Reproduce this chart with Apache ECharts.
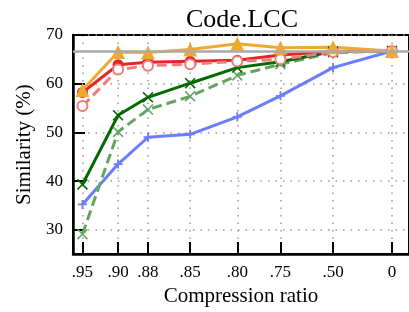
<!DOCTYPE html>
<html>
<head>
<meta charset="utf-8">
<script src="https://cdn.jsdelivr.net/npm/echarts@6/dist/echarts.min.js"></script>
<style>
  html, body { margin: 0; padding: 0; background: #fff; }
  #chart { width: 409px; height: 312px; }
</style>
</head>
<body>
<div id="chart"></div>
<script>
// tick labels and where each one sits along the (non uniform) x axis
const ratioLabels = ['.95', '.90', '.88', '.85', '.80', '.75', '.50', '0'];
const xPos = [9.7, 46.3, 77, 120.3, 168.7, 213, 267, 327.5];

// similarity values (%) per compression ratio
const orangeTri = [58.7, 66.5, 66.4, 67.0, 68.2, 67.4, 67.5, 66.7];
const redSolid = [58.2, 63.9, 64.4, 64.6, 64.8, 65.9, 66.6, 66.7];
const redDashed = [55.4, 62.9, 63.7, 64.0, 64.6, 65.0, 66.5, 66.7];
const greenSolid = [39.3, 53.5, 57.2, 60.1, 63.3, 64.5, 66.6, 66.7];
const greenDashed = [29.1, 50.1, 54.7, 57.4, 61.7, 64.0, 66.4, 66.7];
const bluePlus = [35.2, 43.5, 49.0, 49.6, 53.2, 57.5, 63.3, 66.7];
const baseline = 66.7;

const serif = 'Liberation Serif';
const crossPath = 'path://M1,0 L5,4 L9,0 L10,1 L6,5 L10,9 L9,10 L5,6 L1,10 L0,9 L4,5 L0,1 Z';
const plusPath = 'path://M4,0 H6 V4 H10 V6 H6 V10 H4 V6 H0 V4 H4 Z';

function pairs(vals) {
    return vals.map(function (v, i) { return [xPos[i], v]; });
}

function line(name, vals, color, opts) {
    return Object.assign({
        name: name,
        type: 'line',
        data: pairs(vals),
        symbol: 'circle',
        symbolSize: 10,
        lineStyle: { color: color, width: 3 },
        itemStyle: { color: color },
        animation: false
    }, opts);
}

let chart = echarts.init(document.getElementById('chart'));

let option = {
    title: {
        text: 'Code.LCC',
        left: 237,
        top: 2,
        textAlign: 'center',
        textStyle: { fontFamily: serif, fontSize: 26, fontWeight: 'normal', color: '#000' }
    },
    grid: {
        left: 73, top: 35, width: 345, height: 222,
        show: true, borderColor: '#000', borderWidth: 2, backgroundColor: 'transparent'
    },
    xAxis: {
        type: 'value',
        min: 0,
        max: 345,
        name: 'Compression ratio',
        nameLocation: 'middle',
        nameGap: 31,
        nameTextStyle: { fontFamily: serif, fontSize: 21, color: '#000' },
        axisLine: { lineStyle: { color: '#000', width: 2.5 } },
        axisTick: {
            customValues: xPos,
            inside: true, length: 12,
            lineStyle: { color: '#000', width: 2 }
        },
        axisLabel: {
            customValues: xPos,
            formatter: function (v) { return ratioLabels[xPos.indexOf(v)]; },
            fontFamily: serif, fontSize: 17, color: '#000', margin: 10
        },
        splitLine: { show: true, lineStyle: { color: '#999', type: [1.5, 6], width: 1.5 } }
    },
    yAxis: {
        type: 'value',
        min: 25,
        max: 70,
        interval: 5,
        name: 'Similarity (%)',
        nameLocation: 'middle',
        nameGap: 33,
        nameTextStyle: { fontFamily: serif, fontSize: 21, color: '#000' },
        axisLine: { show: true, lineStyle: { color: '#000', width: 2.5 } },
        axisTick: {
            customValues: [30, 40, 50, 60, 70],
            inside: true, length: 12,
            lineStyle: { color: '#000', width: 2 }
        },
        axisLabel: {
            customValues: [30, 40, 50, 60, 70],
            fontFamily: serif, fontSize: 17, color: '#000', margin: 10
        },
        splitLine: { show: true, lineStyle: { color: '#999', type: [1.5, 6], width: 1.5 } }
    },
    series: [
        {
            type: 'line', data: [], animation: false,
            markLine: {
                silent: true, symbol: 'none', label: { show: false },
                lineStyle: { color: '#aaa', width: 2.5, type: 'solid' },
                data: [{ yAxis: baseline }]
            }
        },
        line('blue', bluePlus, '#6a7dff', { symbol: plusPath, symbolSize: 9 }),
        line('greenDashed', greenDashed, '#63a463', {
            symbol: crossPath, symbolSize: 11,
            lineStyle: { color: '#63a463', width: 3, type: [10, 5] }
        }),
        line('greenSolid', greenSolid, '#006a00', { symbol: crossPath, symbolSize: 11 }),
        line('redSolid', redSolid, '#e8242a', { symbolSize: 11 }),
        line('redDashed', redDashed, '#f27a7a', {
            symbol: 'emptyCircle', symbolSize: 10,
            lineStyle: { color: '#f27a7a', width: 3, type: [10, 5] },
            itemStyle: { color: '#f27a7a', borderWidth: 2.5 }
        }),
        line('orange', orangeTri, '#eeaa30', { symbol: 'triangle', symbolSize: 14 })
    ]
};

chart.setOption(option);
</script>
</body>
</html>
